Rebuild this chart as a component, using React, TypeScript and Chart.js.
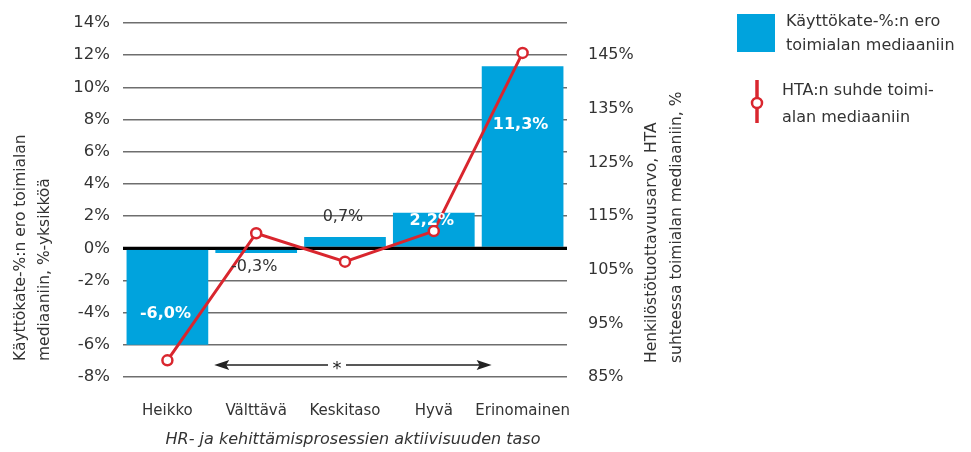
import { useEffect, useRef } from 'react';
import { Chart, registerables } from 'chart.js';

Chart.register(...registerables);

const categories = ['Heikko', 'Välttävä', 'Keskitaso', 'Hyvä', 'Erinomainen'];
const ebitdaDiff = [-6.0, -0.3, 0.7, 2.2, 11.3];
const ebitdaLabels = ['-6,0%', '-0,3%', '0,7%', '2,2%', '11,3%'];
const htaRatio = [88.1, 111.8, 106.5, 112.2, 145.4];
const rightTickValues = [85, 95, 105, 115, 125, 135, 145];
const leftAxisTitle = ['Käyttökate-%:n ero toimialan', 'mediaaniin, %-yksikköä'];
const rightAxisTitle = ['Henkilöstötuottavuusarvo, HTA', 'suhteessa toimialan mediaaniin, %'];
const xAxisTitle = 'HR- ja kehittämisprosessien aktiivisuuden taso';
const legendBar = ['Käyttökate-%:n ero', 'toimialan mediaaniin'];
const legendLine = ['HTA:n suhde toimi-', 'alan mediaaniin'];

const FONT = '"DejaVu Sans", "Open Sans", sans-serif';
const TEXT = '#333333';
const BLUE = '#00a3dd';
const RED = '#d9262e';

const extras = {
  id: 'extras',
  beforeDatasetDraw(chart: any, args: any) {
    if (args.index !== 1) return;
    const { ctx, chartArea } = chart;
    const y = chart.scales.y.getPixelForValue(0);
    ctx.save();
    ctx.strokeStyle = '#000';
    ctx.lineWidth = 3;
    ctx.beginPath();
    ctx.moveTo(chartArea.left, y);
    ctx.lineTo(chartArea.right, y);
    ctx.stroke();
    ctx.restore();
  },
  afterDatasetsDraw(chart: any) {
    const { ctx } = chart;
    const meta = chart.getDatasetMeta(0);
    const ys = chart.scales.y;
    ctx.save();
    ctx.textAlign = 'center';
    ctx.textBaseline = 'middle';
    meta.data.forEach((bar: any, i: number) => {
      const v = ebitdaDiff[i];
      let y: number;
      let inside = true;
      if (Math.abs(v) >= 5) {
        y = ys.getPixelForValue(v * 0.68);
      } else if (Math.abs(v) >= 1) {
        y = bar.y + (v > 0 ? 8 : -8);
      } else {
        inside = false;
        y = bar.y + (v > 0 ? -20 : 14);
      }
      ctx.font = (inside ? 'bold ' : '') + '16px ' + FONT;
      ctx.fillStyle = inside ? '#ffffff' : TEXT;
      ctx.fillText(ebitdaLabels[i], bar.x - 2, y);
    });
    ctx.restore();
  },
  afterDraw(chart: any) {
    const { ctx } = chart;
    const xs = chart.scales.x;
    const ys = chart.scales.y;
    ctx.save();
    ctx.fillStyle = TEXT;
    ctx.font = '15.5px ' + FONT;
    ctx.textBaseline = 'middle';
    ctx.textAlign = 'left';
    [21, 45].forEach((x, i) => {
      ctx.save();
      ctx.translate(x, 361);
      ctx.rotate(-Math.PI / 2);
      ctx.fillText(leftAxisTitle[i], 0, 0);
      ctx.restore();
    });
    [652, 677].forEach((x, i) => {
      ctx.save();
      ctx.translate(x, 363);
      ctx.rotate(-Math.PI / 2);
      ctx.fillText(rightAxisTitle[i], 0, 0);
      ctx.restore();
    });
    // x axis title
    ctx.textAlign = 'center';
    ctx.font = 'italic 16px ' + FONT;
    ctx.fillText(xAxisTitle, 353, 440);

    // legend
    ctx.font = '16px ' + FONT;
    ctx.textAlign = 'left';
    ctx.fillStyle = BLUE;
    ctx.fillRect(737, 14, 38, 38);
    ctx.fillStyle = TEXT;
    ctx.fillText(legendBar[0], 786, 22);
    ctx.fillText(legendBar[1], 786, 46);
    ctx.strokeStyle = RED;
    ctx.lineWidth = 3.5;
    ctx.beginPath();
    ctx.moveTo(757, 80);
    ctx.lineTo(757, 123);
    ctx.stroke();
    ctx.beginPath();
    ctx.arc(757, 103, 5, 0, Math.PI * 2);
    ctx.fillStyle = '#fff';
    ctx.fill();
    ctx.lineWidth = 2.5;
    ctx.stroke();
    ctx.fillStyle = TEXT;
    ctx.fillText(legendLine[0], 782, 91);
    ctx.fillText(legendLine[1], 782, 118);

    // arrow with asterisk
    const ay = ys.getPixelForValue(-7.25);
    const x1 = xs.getPixelForValue(1) - 42;
    const x2 = xs.getPixelForValue(4) - 31;
    const sx = xs.getPixelForValue(2) - 8;
    ctx.strokeStyle = '#222';
    ctx.fillStyle = '#222';
    ctx.lineWidth = 1.5;
    ctx.beginPath();
    ctx.moveTo(x1 + 10, ay);
    ctx.lineTo(sx - 9, ay);
    ctx.moveTo(sx + 9, ay);
    ctx.lineTo(x2 - 10, ay);
    ctx.stroke();
    ctx.beginPath();
    ctx.moveTo(x1, ay);
    ctx.lineTo(x1 + 15, ay - 5);
    ctx.lineTo(x1 + 12, ay);
    ctx.lineTo(x1 + 15, ay + 5);
    ctx.closePath();
    ctx.fill();
    ctx.beginPath();
    ctx.moveTo(x2, ay);
    ctx.lineTo(x2 - 15, ay - 5);
    ctx.lineTo(x2 - 12, ay);
    ctx.lineTo(x2 - 15, ay + 5);
    ctx.closePath();
    ctx.fill();
    ctx.textAlign = 'center';
    ctx.font = '18px ' + FONT;
    ctx.fillText('*', sx, ay + 4);
    ctx.restore();
  },
};

export default function App() {
  const ref = useRef<HTMLCanvasElement>(null);
  useEffect(() => {
    if (!ref.current) return;
    const chart = new Chart(ref.current, {
      type: 'bar',
      data: {
        labels: categories,
        datasets: [
          {
            type: 'bar',
            data: ebitdaDiff,
            backgroundColor: BLUE,
            yAxisID: 'y',
            barPercentage: 0.92,
            categoryPercentage: 1,
            order: 2,
          },
          {
            type: 'line',
            data: htaRatio,
            yAxisID: 'y2',
            borderColor: RED,
            borderWidth: 3,
            pointRadius: 5,
            pointBorderWidth: 2.5,
            pointBackgroundColor: '#ffffff',
            pointBorderColor: RED,
            order: 1,
          } as any,
        ],
      },
      options: {
        responsive: false,
        animation: false,
        layout: { padding: { top: 17, left: 0, right: 0, bottom: 0 } },
        plugins: { legend: { display: false }, tooltip: { enabled: false } },
        scales: {
          x: {
            grid: { display: false },
            border: { display: false },
            ticks: {
              font: { size: 15, family: FONT },
              color: TEXT,
              padding: 17,
              maxRotation: 0,
              minRotation: 0,
              autoSkip: false,
            },
            afterFit(s: any) {
              s.height = 75;
            },
          },
          y: {
            position: 'left',
            min: -8,
            max: 14,
            border: { display: false },
            grid: {
              drawTicks: false,
              color: (c: any) => (c.tick && c.tick.value === 0 ? '#000' : '#6e6e6e'),
              lineWidth: (c: any) => (c.tick && c.tick.value === 0 ? 3 : 1.5),
            },
            ticks: {
              stepSize: 2,
              padding: 13,
              font: { size: 16.5, family: FONT },
              color: TEXT,
              callback: (v: any) => v + '%',
            },
            afterFit(s: any) {
              s.width = 123;
            },
          },
          y2: {
            position: 'right',
            min: 85,
            max: 151,
            border: { display: false },
            grid: { display: false, drawOnChartArea: false },
            ticks: {
              padding: 13,
              font: { size: 16, family: FONT },
              color: TEXT,
              callback: (v: any) => v + '%',
            },
            afterBuildTicks(s: any) {
              s.ticks = rightTickValues.map((v) => ({ value: v }));
            },
            afterFit(s: any) {
              s.width = 404;
            },
          },
        },
      } as any,
      plugins: [extras],
    });
    return () => chart.destroy();
  }, []);
  return (
    <div style={{ position: 'absolute', left: 0, top: 0, width: 971, height: 452, background: '#fff' }}>
      <canvas ref={ref} width={971} height={452} style={{ display: 'block' }} />
    </div>
  );
}
